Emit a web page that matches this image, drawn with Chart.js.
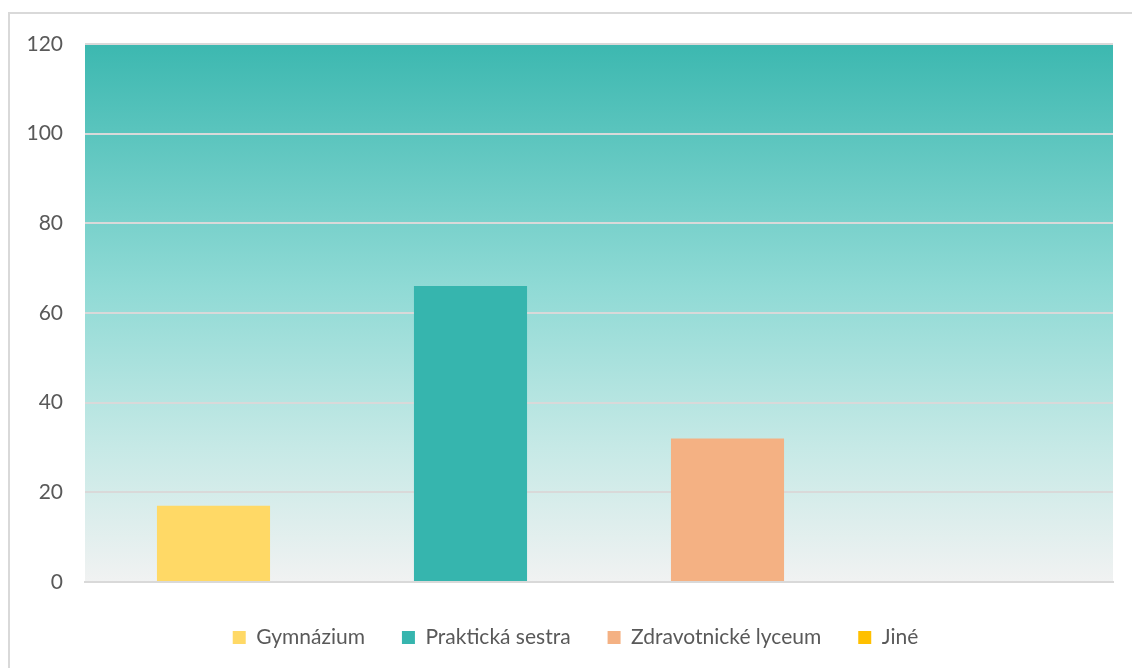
<!DOCTYPE html>
<html>
<head>
<meta charset="utf-8">
<script src="https://cdn.jsdelivr.net/npm/chart.js@4"></script>
<style>
  body { margin: 0; background: #fff; overflow: hidden; }
  #frame { position: absolute; left: 8px; top: 12px; width: 1200px; height: 700px; border: 2px solid #d9d9d9; }
  #wrap { position: absolute; left: 0; top: 0; width: 1132px; height: 668px; }
</style>
</head>
<body>
<div id="frame"></div>
<div id="wrap"><canvas id="barChart" width="1132" height="668"></canvas></div>
<script>
const categories = [''];
const seriesNames = ['Gymnázium', 'Praktická sestra', 'Zdravotnické lyceum', 'Jiné'];
const seriesValues = [17, 66, 32, 0];
const seriesColors = ['#ffd966', '#36b5ae', '#f4b183', '#ffc000'];
const yTicks = [0, 20, 40, 60, 80, 100, 120];

// plot area gradient, teal at top fading to light grey
const plotBackground = {
  id: 'plotBackground',
  beforeDraw(chart) {
    const { ctx, chartArea: a } = chart;
    const g = ctx.createLinearGradient(0, a.top, 0, a.bottom);
    g.addColorStop(0, '#3cb8b0');
    g.addColorStop(0.45, '#8fdad5');
    g.addColorStop(0.75, '#c6e9e6');
    g.addColorStop(1, '#f1f2f2');
    ctx.save();
    ctx.fillStyle = g;
    ctx.fillRect(a.left, a.top, a.right - a.left, a.bottom - a.top);
    ctx.restore();
  }
};

document.addEventListener('DOMContentLoaded', function () {
  const ctx = document.getElementById('barChart').getContext('2d');
  new Chart(ctx, {
    type: 'bar',
    data: {
      labels: categories,
      datasets: seriesNames.map((name, i) => ({
        label: name,
        data: [seriesValues[i]],
        backgroundColor: seriesColors[i],
        barPercentage: 0.44,
        categoryPercentage: 1,
      })),
    },
    options: {
      responsive: false,
      animation: false,
      layout: { padding: { left: 38, right: 19, top: 44, bottom: 10 } },
      plugins: {
        tooltip: { enabled: false },
        legend: {
          position: 'bottom',
          labels: {
            boxWidth: 13,
            boxHeight: 13,
            padding: 37,
            color: '#595959',
            font: { family: 'Lato', size: 21 },
          },
        },
      },
      scales: {
        x: {
          ticks: { display: false },
          grid: { display: false },
          border: { color: '#d9d9d9', width: 2 },
        },
        y: {
          min: 0,
          max: 120,
          afterBuildTicks: (axis) => { axis.ticks = yTicks.map((v) => ({ value: v })); },
          afterFit: (axis) => {
            axis.width = 47;
            // labels reach past the narrow axis box, so don't clip them
            axis._computeLabelArea = () => null;
          },
          ticks: {
            padding: 22,
            color: '#595959',
            font: { family: 'Lato', size: 21 },
          },
          grid: { color: '#d9d9d9', lineWidth: 2, drawTicks: false },
          border: { display: false },
        },
      },
    },
    plugins: [plotBackground],
  });
});
</script>
</body>
</html>
